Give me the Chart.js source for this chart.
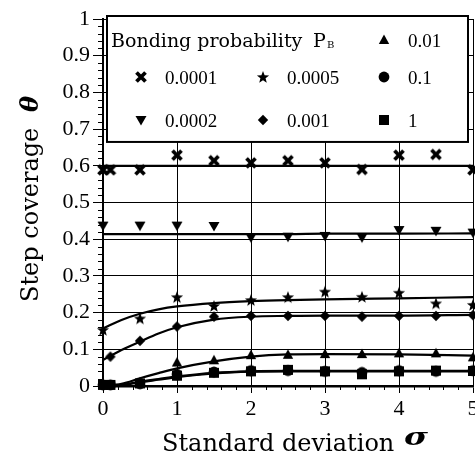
<!DOCTYPE html>
<html><head><meta charset="utf-8">
<script src="https://cdn.jsdelivr.net/npm/chart.js@4/dist/chart.umd.min.js"></script>
<style>html,body{margin:0;padding:0;background:#fff;}#wrap{width:475px;height:457px;position:relative;}</style>
</head><body><div id="wrap"><canvas id="c" width="475" height="457"></canvas></div>
<script>
// ---- data ----
const sigma = [0, 0.1, 0.5, 1, 1.5, 2, 2.5, 3, 3.5, 4, 4.5, 5];
const pb0001 = [0.589, 0.589, 0.589, 0.629, 0.614, 0.608, 0.614, 0.608, 0.590, 0.629, 0.631, 0.589];
const pb0002 = [0.437, null, 0.437, 0.437, 0.436, 0.405, 0.407, 0.409, 0.405, 0.425, 0.423, 0.418];
const pb0005 = [0.153, null, 0.184, 0.242, 0.218, 0.234, 0.242, 0.257, 0.243, 0.254, 0.225, 0.221];
const pb001  = [null, 0.080, 0.123, 0.162, 0.189, 0.191, 0.191, 0.191, 0.189, 0.191, 0.191, 0.193];
const pb01   = [0.004, null, 0.010, 0.064, 0.070, 0.084, 0.085, 0.087, 0.087, 0.089, 0.089, 0.078];
const pb1e_1 = [0.003, 0.003, 0.006, 0.032, 0.038, 0.042, 0.042, 0.040, 0.037, 0.042, 0.040, 0.042];
const pb1    = [0.003, 0.003, 0.007, 0.028, 0.036, 0.040, 0.044, 0.040, 0.032, 0.040, 0.042, 0.041];

// fitted curves
const fitSigma = [0, 0.25, 0.5, 0.75, 1, 1.5, 2, 2.5, 3, 4, 5];
const fit0001 = [0.600, 0.600, 0.600, 0.600, 0.600, 0.600, 0.600, 0.600, 0.600, 0.600, 0.600];
const fit0002 = [0.414, 0.414, 0.414, 0.414, 0.414, 0.414, 0.414, 0.414, 0.415, 0.415, 0.416];
const fit0005 = [0.157, 0.180, 0.197, 0.209, 0.217, 0.226, 0.231, 0.234, 0.236, 0.239, 0.242];
const fit001  = [0.071, 0.098, 0.121, 0.143, 0.160, 0.181, 0.189, 0.191, 0.192, 0.192, 0.194];
const fit01   = [0.000, 0.006, 0.021, 0.035, 0.048, 0.067, 0.080, 0.086, 0.087, 0.086, 0.083];
const fit1e_1 = [0.000, 0.003, 0.012, 0.019, 0.026, 0.036, 0.040, 0.041, 0.041, 0.041, 0.041];
const fit1    = [0.000, 0.002, 0.010, 0.017, 0.024, 0.034, 0.039, 0.040, 0.040, 0.040, 0.040];

const xTicks = [0, 1, 2, 3, 4, 5];
const yTicks = [0, 0.1, 0.2, 0.3, 0.4, 0.5, 0.6, 0.7, 0.8, 0.9, 1];
const legendLabels = ['0.0001', '0.0002', '0.0005', '0.001', '0.01', '0.1', '1'];

// ---- marker images ----
function marker(type) {
  const s = 14, c = document.createElement('canvas');
  c.width = s; c.height = s;
  const g = c.getContext('2d');
  g.fillStyle = '#000'; g.strokeStyle = '#000';
  const m = s / 2;
  g.beginPath();
  if (type === 'x') {
    g.lineWidth = 3.8; g.lineCap = 'butt';
    g.moveTo(m - 4.5, m - 4.5); g.lineTo(m + 4.5, m + 4.5);
    g.moveTo(m + 4.5, m - 4.5); g.lineTo(m - 4.5, m + 4.5);
    g.stroke(); return c;
  }
  if (type === 'star') {
    for (let i = 0; i < 10; i++) {
      const r = i % 2 ? 2.7 : 6.4;
      const a = -Math.PI / 2 + i * Math.PI / 5;
      const px = m + r * Math.cos(a), py = m + 0.5 + r * Math.sin(a);
      i ? g.lineTo(px, py) : g.moveTo(px, py);
    }
  } else if (type === 'tri') {
    g.moveTo(m, m - 5.5); g.lineTo(m + 5.2, m + 4); g.lineTo(m - 5.2, m + 4);
  } else if (type === 'tridown') {
    g.moveTo(m, m + 5.5); g.lineTo(m + 5.5, m - 4); g.lineTo(m - 5.5, m - 4);
  } else if (type === 'diamond') {
    g.moveTo(m, m - 5.2); g.lineTo(m + 5.2, m); g.lineTo(m, m + 5.2); g.lineTo(m - 5.2, m);
  } else if (type === 'circle') {
    g.arc(m, m, 5.4, 0, Math.PI * 2);
  } else if (type === 'square') {
    g.rect(m - 5, m - 5, 10, 10);
  }
  g.closePath(); g.fill();
  return c;
}
const mk = {
  x: marker('x'), star: marker('star'), tri: marker('tri'), tridown: marker('tridown'),
  diamond: marker('diamond'), circle: marker('circle'), square: marker('square')
};

const pts = (xs, ys) => xs.map((x, i) => ({x: x, y: ys[i]})).filter(p => p.y !== null);
const ptsDS = (label, ys, style) => ({
  label: label, data: pts(sigma, ys), showLine: false, pointStyle: style,
  pointRadius: 6, pointHoverRadius: 6, clip: false, order: 1
});
const fitDS = (ys) => ({
  label: 'fit', data: pts(fitSigma, ys), showLine: true, borderColor: '#000', borderWidth: 2.2,
  pointRadius: 0, cubicInterpolationMode: 'monotone', clip: false, order: 2
});

const serif = 'Liberation Serif';
const titleFont = '"DejaVu Serif"';

const decor = {
  id: 'decor',
  afterDraw(chart) {
    const ctx = chart.ctx, a = chart.chartArea;
    const xs = chart.scales.x, ys = chart.scales.y;
    ctx.save();
    ctx.strokeStyle = '#000'; ctx.lineWidth = 1;
    // minor ticks
    ctx.beginPath();
    for (let i = 1; i < 50; i++) {
      if (i % 5 === 0) continue;
      const py = Math.round(ys.getPixelForValue(i * 0.02)) + 0.5;
      ctx.moveTo(a.left - 5, py); ctx.lineTo(a.left, py);
    }
    for (let i = 1; i < 25; i++) {
      if (i % 5 === 0) continue;
      const px = Math.round(xs.getPixelForValue(i * 0.2)) + 0.5;
      ctx.moveTo(px, a.bottom); ctx.lineTo(px, a.bottom + 4);
    }
    ctx.stroke();

    // legend box
    const L = a.left + 4, T = a.top - 3, R = a.right - 5, B = ys.getPixelForValue(0.665);
    ctx.fillStyle = '#fff';
    ctx.fillRect(L, T, R - L, B - T);
    ctx.lineWidth = 2;
    ctx.strokeRect(L, T, R - L, B - T);
    ctx.fillStyle = '#000';
    ctx.textBaseline = 'alphabetic';
    ctx.textAlign = 'left';
    ctx.font = '19px ' + titleFont;
    ctx.fillText('Bonding probability', L + 4, T + 31);
    ctx.fillText('P', L + 206, T + 31);
    ctx.font = '10px ' + titleFont;
    ctx.fillText('B', L + 220, T + 32);
    const rows = [T + 24, T + 61, T + 104];
    const cols = [L + 34, L + 156, L + 277];
    const items = [
      [mk.tri, legendLabels[4], 2, 0],
      [mk.x, legendLabels[0], 0, 1], [mk.star, legendLabels[2], 1, 1], [mk.circle, legendLabels[5], 2, 1],
      [mk.tridown, legendLabels[1], 0, 2], [mk.diamond, legendLabels[3], 1, 2], [mk.square, legendLabels[6], 2, 2]
    ];
    ctx.font = '19px "' + serif + '"';
    items.forEach(([img, txt, c, r]) => {
      const cx = cols[c], cy = rows[r];
      ctx.drawImage(img, cx - img.width / 2, cy - img.height / 2);
      ctx.fillText(txt, cx + 24, cy + 7);
    });

    // axis titles
    ctx.font = '24px ' + titleFont;
    ctx.fillText('Standard deviation', 162, 451);
    ctx.save();
    ctx.translate(404, 445);
    ctx.scale(1.3, 1);
    ctx.font = 'italic bold 25px ' + titleFont;
    ctx.fillText('σ', 0, 0);
    ctx.restore();

    ctx.save();
    ctx.translate(38, 302);
    ctx.rotate(-Math.PI / 2);
    ctx.font = '24px ' + titleFont;
    ctx.fillText('Step coverage', 0, 0);
    ctx.font = 'italic bold 24px ' + titleFont;
    ctx.fillText('θ', 190, 0);
    ctx.restore();
    ctx.restore();
  }
};

new Chart(document.getElementById('c'), {
  type: 'scatter',
  data: {
    datasets: [
      ptsDS(legendLabels[0], pb0001, mk.x),
      ptsDS(legendLabels[1], pb0002, mk.tridown),
      ptsDS(legendLabels[2], pb0005, mk.star),
      ptsDS(legendLabels[3], pb001, mk.diamond),
      ptsDS(legendLabels[4], pb01, mk.tri),
      ptsDS(legendLabels[5], pb1e_1, mk.circle),
      ptsDS(legendLabels[6], pb1, mk.square),
      fitDS(fit0001), fitDS(fit0002), fitDS(fit0005), fitDS(fit001),
      fitDS(fit01), fitDS(fit1e_1), fitDS(fit1)
    ]
  },
  options: {
    responsive: false, animation: false, devicePixelRatio: 1,
    layout: {autoPadding: false, padding: {top: 19, right: 2, left: 0, bottom: 0}},
    plugins: {legend: {display: false}, tooltip: {enabled: false}},
    scales: {
      x: {
        type: 'linear', min: xTicks[0], max: xTicks[xTicks.length - 1],
        border: {color: '#000', width: 2.5},
        grid: {color: '#000', lineWidth: 1, tickLength: 7, tickColor: '#000'},
        afterBuildTicks(s) { s.ticks = xTicks.map(v => ({value: v})); },
        ticks: {color: '#000', font: {family: serif, size: 22}, padding: 3, maxRotation: 0,
                callback: v => String(v)},
        afterFit(s) { s.height = 71; s.paddingLeft = 0; s.paddingRight = 0; }
      },
      y: {
        type: 'linear', min: yTicks[0], max: yTicks[yTicks.length - 1],
        border: {color: '#000', width: 2},
        grid: {color: '#000', lineWidth: 1, tickLength: 10, tickColor: '#000'},
        afterBuildTicks(s) { s.ticks = yTicks.map(v => ({value: v})); },
        ticks: {color: '#000', font: {family: serif, size: 22}, padding: 3,
                callback: v => String(+v.toFixed(1))},
        afterFit(s) { s.width = 103; s.paddingTop = 0; s.paddingBottom = 0; }
      }
    }
  },
  plugins: [decor]
});
</script></body></html>
